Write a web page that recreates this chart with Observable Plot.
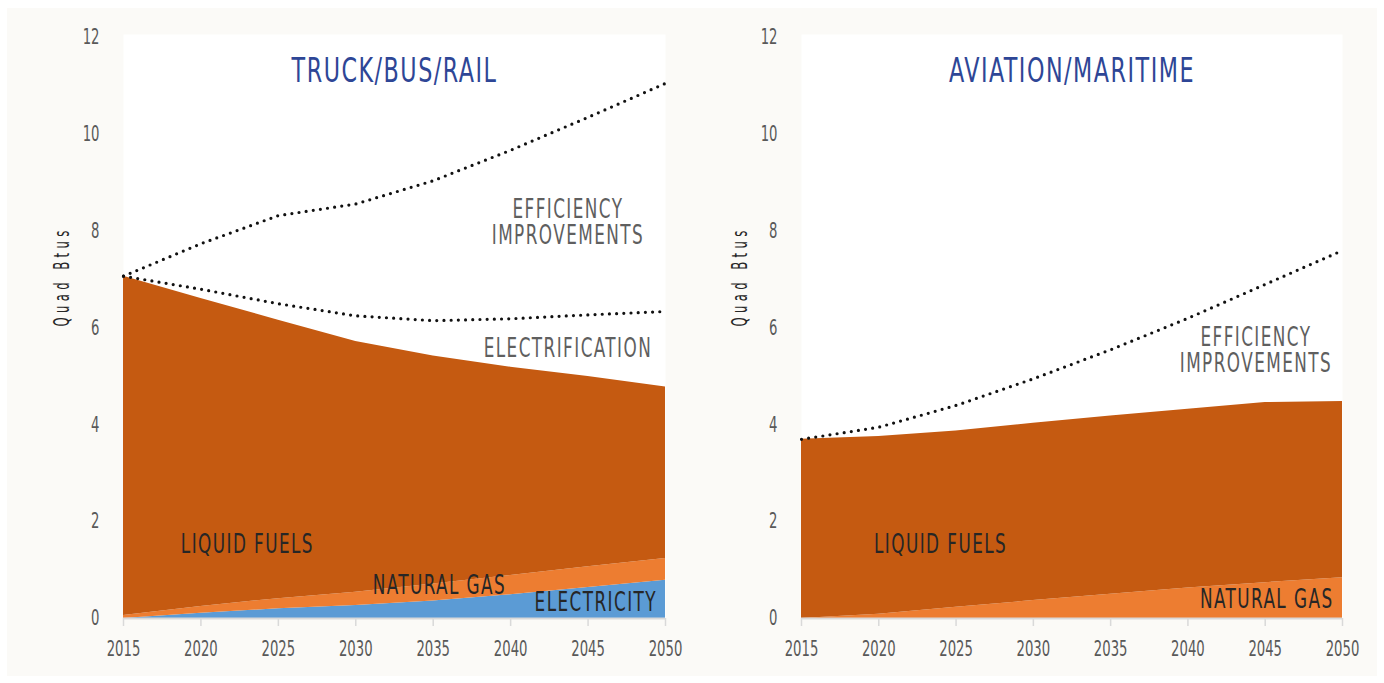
<!DOCTYPE html>
<html>
<head>
<meta charset="utf-8">
<script src="https://cdn.jsdelivr.net/npm/d3@7"></script>
<script src="https://cdn.jsdelivr.net/npm/@observablehq/plot@0.6"></script>
<style>
  html, body { margin: 0; padding: 0; background: #ffffff; }
  #page { position: relative; width: 1384px; height: 683px; overflow: hidden; }
  #bg { position: absolute; left: 7px; top: 8px; width: 1370px; height: 668px; background: #fbfaf7; }
  #left, #right { position: absolute; top: 0; }
  #left { left: 0; }
  #right { left: 692px; }
  .title text { letter-spacing: 2px; }
  .lbl text { letter-spacing: 2px; }
  .ylab text { letter-spacing: 7px; }
</style>
</head>
<body>
<div id="page">
  <div id="bg"></div>
  <div id="left"></div>
  <div id="right"></div>
</div>
<script>
// ---- Data ----
const years = [2015, 2020, 2025, 2030, 2035, 2040, 2045, 2050];
const yTicks = [0, 2, 4, 6, 8, 10, 12];

// Truck/Bus/Rail (Quad Btus, stacked increments)
const tbrElectricity     = [0.00, 0.11, 0.20, 0.27, 0.36, 0.49, 0.64, 0.79];
const tbrNaturalGas      = [0.06, 0.14, 0.21, 0.27, 0.35, 0.40, 0.43, 0.45];
const tbrLiquidFuels     = [7.01, 6.36, 5.75, 5.18, 4.71, 4.30, 3.93, 3.54];
const tbrElectrification = [0.00, 0.19, 0.34, 0.53, 0.73, 1.00, 1.27, 1.56];
const tbrEfficiency      = [0.00, 0.94, 1.82, 2.31, 2.89, 3.48, 4.08, 4.71];

// Aviation/Maritime (Quad Btus, stacked increments)
const amNaturalGas  = [0.00, 0.09, 0.23, 0.37, 0.50, 0.63, 0.74, 0.84];
const amLiquidFuels = [3.70, 3.67, 3.64, 3.66, 3.68, 3.69, 3.72, 3.64];
const amEfficiency  = [0.00, 0.19, 0.53, 0.92, 1.37, 1.88, 2.44, 3.12];

const tbrTitle = "TRUCK/BUS/RAIL";
const amTitle = "AVIATION/MARITIME";
const yLabel = "Quad Btus";

// Annotations anchored in data space (year, Quad Btus)
const tbrLabels = [
  {text: "EFFICIENCY\nIMPROVEMENTS", year: 2043.7, value: 8.18, kind: "gray"},
  {text: "ELECTRIFICATION", year: 2043.7, value: 5.58, kind: "gray"},
  {text: "LIQUID FUELS", year: 2023.0, value: 1.53, kind: "dark"},
  {text: "NATURAL GAS", year: 2035.4, value: 0.68, kind: "dark"},
  {text: "ELECTRICITY", year: 2045.5, value: 0.33, kind: "dark"}
];
const amLabels = [
  {text: "EFFICIENCY\nIMPROVEMENTS", year: 2044.4, value: 5.54, kind: "gray"},
  {text: "LIQUID FUELS", year: 2024.0, value: 1.53, kind: "dark"},
  {text: "NATURAL GAS", year: 2045.1, value: 0.39, kind: "dark"}
];

// ---- Styling ----
const FONT = "'DejaVu Sans Condensed', 'DejaVu Sans', sans-serif";
const colors = {"Electricity": "#5b9bd5", "Natural gas": "#ed7d31", "Liquid fuels": "#c55a11"};
const labelColors = {gray: "#5f5f5f", dark: "#262626"};

function stackRows(seriesList) {
  const rows = [];
  const base = years.map(() => 0);
  for (const s of seriesList) {
    years.forEach((yr, i) => {
      rows.push({series: s.name, year: yr, lo: base[i], hi: base[i] + s.values[i]});
    });
    years.forEach((_, i) => base[i] += s.values[i]);
  }
  return {rows, top: base.slice()};
}

// narrow the glyphs horizontally (condensed look) around each text's anchor
function condense(svg, selector, sx) {
  svg.querySelectorAll(selector).forEach(t => {
    const tr = t.getAttribute("transform") || "";
    t.setAttribute("transform", tr + ` scale(${sx},1)`);
  });
}

function panel({areas, lines, title, labels, marginLeft, marginRight}) {
  const st = stackRows(areas);
  let cum = st.top.slice();
  const lineRows = [];
  for (const l of lines) {
    cum = cum.map((c, i) => c + l.values[i]);
    years.forEach((yr, i) => lineRows.push({series: l.name, year: yr, value: cum[i]}));
  }
  const svg = Plot.plot({
    width: 692,
    height: 683,
    marginLeft, marginRight,
    marginTop: 34,
    marginBottom: 65,
    style: {background: "transparent", fontFamily: FONT, color: "#595959", overflow: "visible"},
    x: {domain: [2015, 2050]},
    y: {domain: [0, 12.06]},
    color: {domain: Object.keys(colors), range: Object.values(colors)},
    marks: [
      Plot.frame({fill: "white", stroke: "none"}),
      Plot.areaY(st.rows, {x: "year", y1: "lo", y2: "hi", fill: "series", z: "series", curve: "linear"}),
      Plot.ruleY([0], {stroke: "#d9d9d9", strokeWidth: 2}),
      Plot.axisX({ticks: years, tickFormat: d => String(d), tickSize: 8, tickPadding: 15,
        stroke: "#d9d9d9", strokeWidth: 1.5, fontSize: 21, label: null}),
      Plot.axisY({ticks: yTicks, tickSize: 0, tickPadding: 24, fontSize: 21, label: null}),
      Plot.lineY(lineRows, {x: "year", y: "value", z: "series", stroke: "#111", strokeWidth: 3.2,
        strokeDasharray: "0 7.2", strokeLinecap: "round", curve: "linear"}),
      Plot.text(labels, {x: "year", y: "value", text: "text", fill: d => labelColors[d.kind],
        fontSize: 26, lineHeight: 1.0, textAnchor: "middle", className: "lbl"}),
      Plot.text([title], {frameAnchor: "top", dy: 24, fill: "#2e4696", fontSize: 33, className: "title"}),
      Plot.text([yLabel], {frameAnchor: "left", dx: -61, rotate: -90, fill: "#262626", fontSize: 21, className: "ylab"})
    ]
  });
  condense(svg, 'g[aria-label="x-axis tick label"] text', 0.7);
  condense(svg, 'g[aria-label="y-axis tick label"] text', 0.7);
  condense(svg, '.lbl text', 0.72);
  condense(svg, '.title text', 0.75);
  condense(svg, '.ylab text', 0.62);
  return svg;
}

document.getElementById("left").appendChild(panel({
  areas: [
    {name: "Electricity", values: tbrElectricity},
    {name: "Natural gas", values: tbrNaturalGas},
    {name: "Liquid fuels", values: tbrLiquidFuels}
  ],
  lines: [
    {name: "Electrification", values: tbrElectrification},
    {name: "Efficiency", values: tbrEfficiency}
  ],
  title: tbrTitle,
  labels: tbrLabels,
  marginLeft: 123, marginRight: 27
}));

document.getElementById("right").appendChild(panel({
  areas: [
    {name: "Natural gas", values: amNaturalGas},
    {name: "Liquid fuels", values: amLiquidFuels}
  ],
  lines: [
    {name: "Efficiency", values: amEfficiency}
  ],
  title: amTitle,
  labels: amLabels,
  marginLeft: 109, marginRight: 42
}));
</script>
</body>
</html>
